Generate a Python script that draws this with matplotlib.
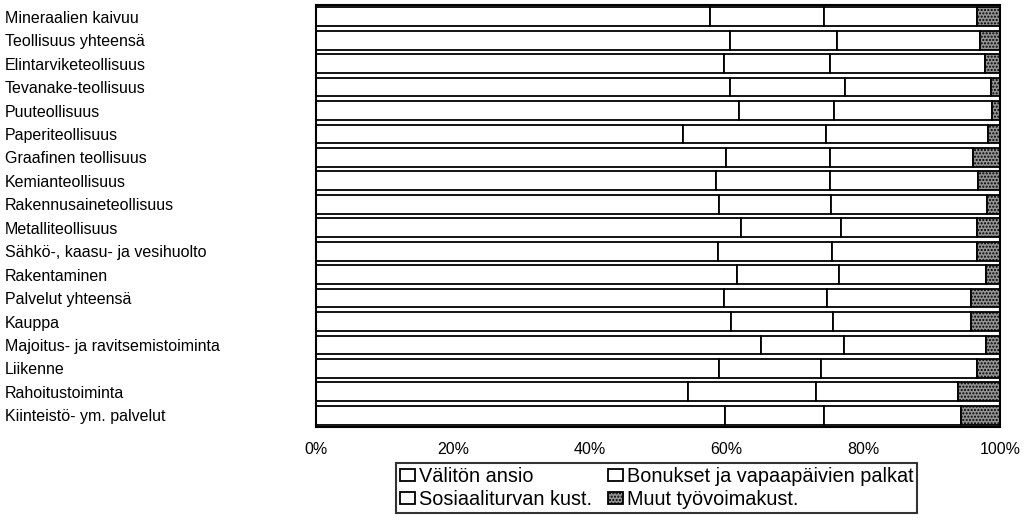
import numpy as np
import matplotlib
matplotlib.use('Agg')
import matplotlib.pyplot as plt

plt.rcParams['font.family'] = ['Liberation Sans', 'DejaVu Sans']

toimialat = ["Mineraalien kaivuu", "Teollisuus yhteensä", "Elintarviketeollisuus",
             "Tevanake-teollisuus", "Puuteollisuus", "Paperiteollisuus",
             "Graafinen teollisuus", "Kemianteollisuus", "Rakennusaineteollisuus",
             "Metalliteollisuus", "Sähkö-, kaasu- ja vesihuolto", "Rakentaminen",
             "Palvelut yhteensä", "Kauppa", "Majoitus- ja ravitsemistoiminta",
             "Liikenne", "Rahoitustoiminta", "Kiinteistö- ym. palvelut"]

# osuudet prosentteina
valiton = [57.6, 60.5, 59.7, 60.5, 61.8, 53.6, 59.9, 58.5, 58.9,
           62.1, 58.7, 61.6, 59.7, 60.6, 65.1, 58.9, 54.4, 59.8]
bonukset = [16.7, 15.6, 15.4, 16.9, 14.0, 21.0, 15.2, 16.6, 16.4,
            14.7, 16.7, 14.9, 15.0, 15.0, 12.1, 15.0, 18.7, 14.5]
sosiaali = [22.4, 21.0, 22.7, 21.3, 23.0, 23.7, 20.9, 21.7, 22.8,
            19.9, 21.3, 21.5, 21.0, 20.1, 20.8, 22.8, 20.7, 20.0]
muut = [3.3, 2.9, 2.2, 1.3, 1.2, 1.7, 4.0, 3.2, 1.9,
        3.3, 3.3, 2.0, 4.3, 4.3, 2.0, 3.3, 6.2, 5.7]

sarjat = [valiton, bonukset, sosiaali, muut]
nimet = ["Välitön ansio", "Bonukset ja vapaapäivien palkat",
         "Sosiaaliturvan kust.", "Muut työvoimakust."]

fig = plt.figure(figsize=(10.25, 5.27), dpi=100)
ax = fig.add_axes([316/1025, 1-427/527, 684/1025, 422/527])

y = np.arange(len(toimialat))
vasen = np.zeros(len(toimialat))
palkit = []
for i, s in enumerate(sarjat):
    s = np.array(s)
    if i == 3:
        b = ax.barh(y, s, left=vasen, height=0.8, color='#949494',
                    edgecolor='black', linewidth=1.3, hatch='.....')
    else:
        b = ax.barh(y, s, left=vasen, height=0.8, color='white',
                    edgecolor='black', linewidth=1.3)
    palkit.append(b)
    vasen = vasen + s

ax.set_xlim(0, 100)
ax.set_ylim(len(toimialat)-0.5, -0.5)
ax.set_xticks([0, 20, 40, 60, 80, 100])
ax.set_xticklabels(['0%', '20%', '40%', '60%', '80%', '100%'], fontsize=11.5)
ax.set_yticks(y)
ax.set_yticklabels(toimialat, fontsize=11.5, ha='left')
ax.tick_params(axis='y', length=0, pad=311*0.72)
ax.tick_params(axis='x', length=0, pad=11)
for sp in ax.spines.values():
    sp.set_linewidth(1.5)

# legenda: sarakkeittain järjestys
jarj = [0, 2, 1, 3]
leg = fig.legend([palkit[k] for k in jarj], [nimet[k] for k in jarj],
                 loc='upper left', bbox_to_anchor=(396/1025, 1-463/527), ncol=2,
                 fontsize=14.3, frameon=True, fancybox=False, edgecolor='black',
                 handlelength=0.75, handleheight=0.55, handletextpad=0.2,
                 columnspacing=0.8, borderpad=0.2, labelspacing=0.2,
                 borderaxespad=0)
leg.get_frame().set_linewidth(1.5)

fig.savefig('out.png', dpi=100)
